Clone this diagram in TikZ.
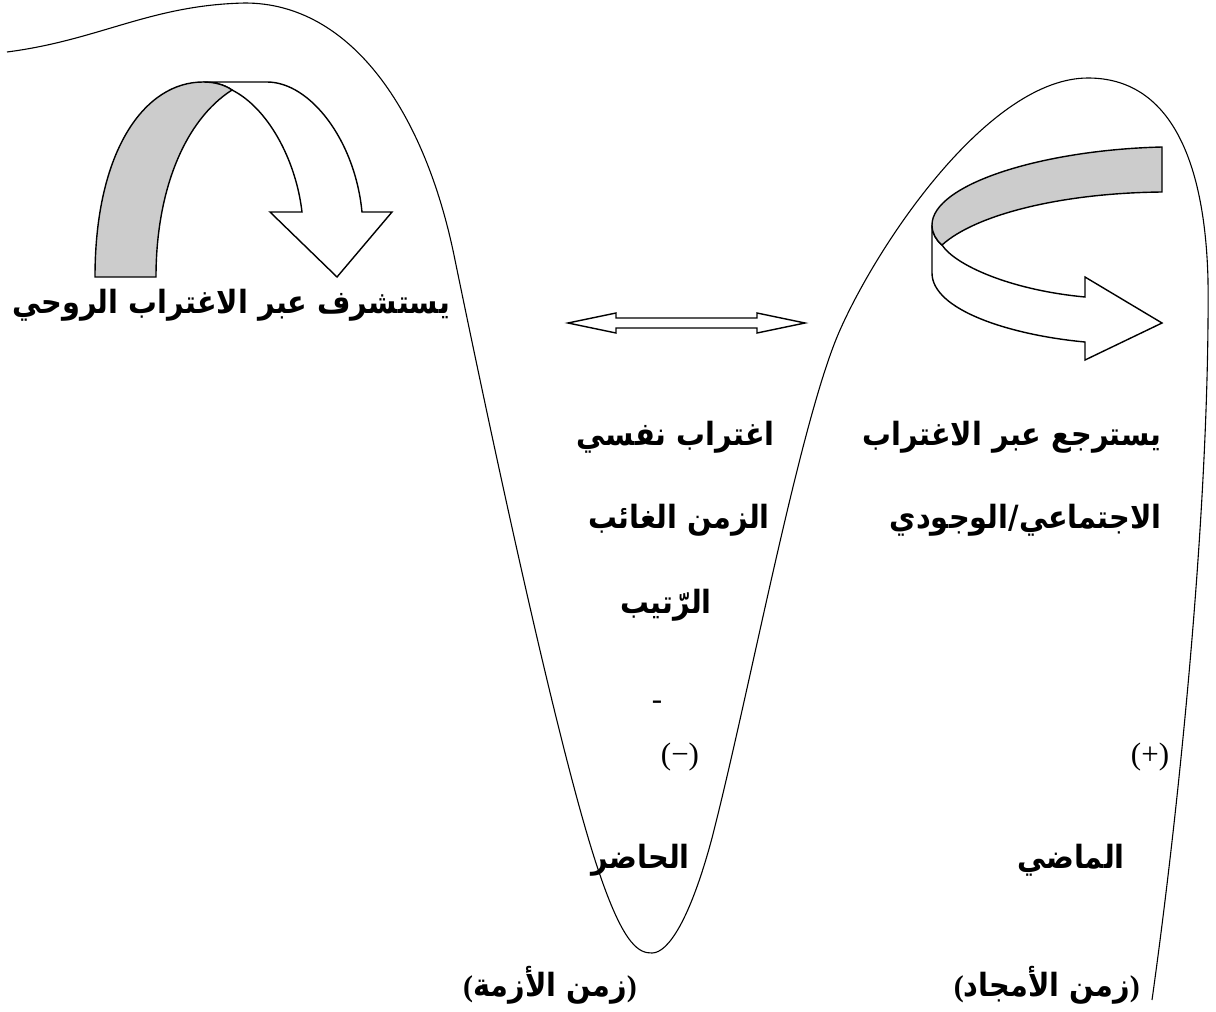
\documentclass[tikz,border=0pt]{standalone}
\usepackage{fontspec}
\TeXXeTstate=1
\setmainfont{Liberation Serif}
\newfontfamily\arabicfont[Script=Arabic, FakeStretch=0.9]{DejaVu Sans}
\tikzset{
  ar/.style={font=\arabicfont\bfseries\fontsize{32}{36}\selectfont, inner sep=0pt},
  sym/.style={font=\fontsize{31}{34}\selectfont, inner sep=0pt},
  maincurve/.style={line width=1.1pt, line join=round},
  ribbon/.style={line width=1.4pt, line join=miter},
  shade/.style={ribbon, fill=black!20},
  blank/.style={ribbon, fill=white},
}
\newcommand{\pb}[1]{{\normalfont\bfseries\fontsize{30}{34}\selectfont #1}}
\begin{document}
\begin{tikzpicture}[x=1pt,y=-1pt]
\useasboundingbox (0,0) rectangle (1216,1012);
\fill[white] (0,0) rectangle (1216,1012);

% main wave
\draw[maincurve] (7,52) .. controls (100,40) and (150,5) .. (245,3)
  .. controls (350,3) and (425,110) .. (455,260)
  .. controls (490,430) and (560,760) .. (600,875)
  .. controls (625,948) and (640,953) .. (652,953)
  .. controls (668,953) and (690,920) .. (712,838)
  .. controls (750,690) and (800,420) .. (840,330)
  .. controls (880,240) and (990,78) .. (1088,78)
  .. controls (1170,78) and (1205,160) .. (1208,280)
  .. controls (1210,500) and (1180,800) .. (1152,1000);

% left curled arrow
\draw[blank] (203,82) -- (267,82) .. controls (310,82) and (355,140) .. (362,212)
  -- (392,212) -- (337,277) -- (270,212) -- (302,212)
  .. controls (296,160) and (268,108) .. (232,90)
  .. controls (225,85) and (215,82) .. (203,82) -- cycle;
\draw[shade] (95,277) .. controls (95,150) and (145,82) .. (203,82)
  .. controls (215,82) and (225,85) .. (232,90)
  .. controls (185,120) and (156,190) .. (156,277) -- cycle;

% right curled arrow
\draw[blank] (932,225) -- (932,273) .. controls (932,310) and (1010,335) .. (1085,342)
  -- (1085,360) -- (1162,323) -- (1085,277) -- (1085,297)
  .. controls (1010,290) and (955,265) .. (942,245)
  .. controls (936,240) and (932,233) .. (932,225) -- cycle;
\draw[shade] (1162,147) .. controls (1040,150) and (932,185) .. (932,225)
  .. controls (932,233) and (936,240) .. (942,245)
  .. controls (975,215) and (1060,193) .. (1162,192) -- cycle;

% double arrow
\draw[ribbon, fill=white] (568,323) -- (616,313) -- (616,318) -- (757,318) -- (757,313)
  -- (805,323) -- (757,333) -- (757,328) -- (616,328) -- (616,333) -- cycle;

% texts
\node[ar, anchor=west] (t1) at (12,305) {\beginR يستشرف عبر الاغتراب الروحي\endR};
\node[ar, anchor=east] (t2) at (775,437) {\beginR اغتراب نفسي\endR};
\node[ar, anchor=east] (t3) at (1162,437) {\beginR يسترجع عبر الاغتراب\endR};
\node[ar, anchor=east] (t4) at (770,520) {\beginR الزمن الغائب\endR};
\node[ar, anchor=east] (t5) at (1162,520) {\beginR الاجتماعي/الوجودي\endR};
\node[ar, anchor=east] (t6) at (712,605) {\beginR الرّتيب\endR};
\node[sym] (t7) at (657,705) {-};
\node[sym] (t8) at (680,757) {(−)};
\node[sym] (t9) at (1150,757) {(+)};
\node[ar, anchor=east] (t10) at (690,860) {\beginR الحاضر\endR};
\node[ar, anchor=east] (t11) at (1125,860) {\beginR الماضي\endR};
\node[ar] (t12) at (550,985) {\pb{(}\beginR زمن الأزمة\endR\pb{)}};
\node[ar, anchor=east] (t13) at (1140,985) {\pb{(}\beginR زمن الأمجاد\endR\pb{)}};
\end{tikzpicture}
\end{document}
